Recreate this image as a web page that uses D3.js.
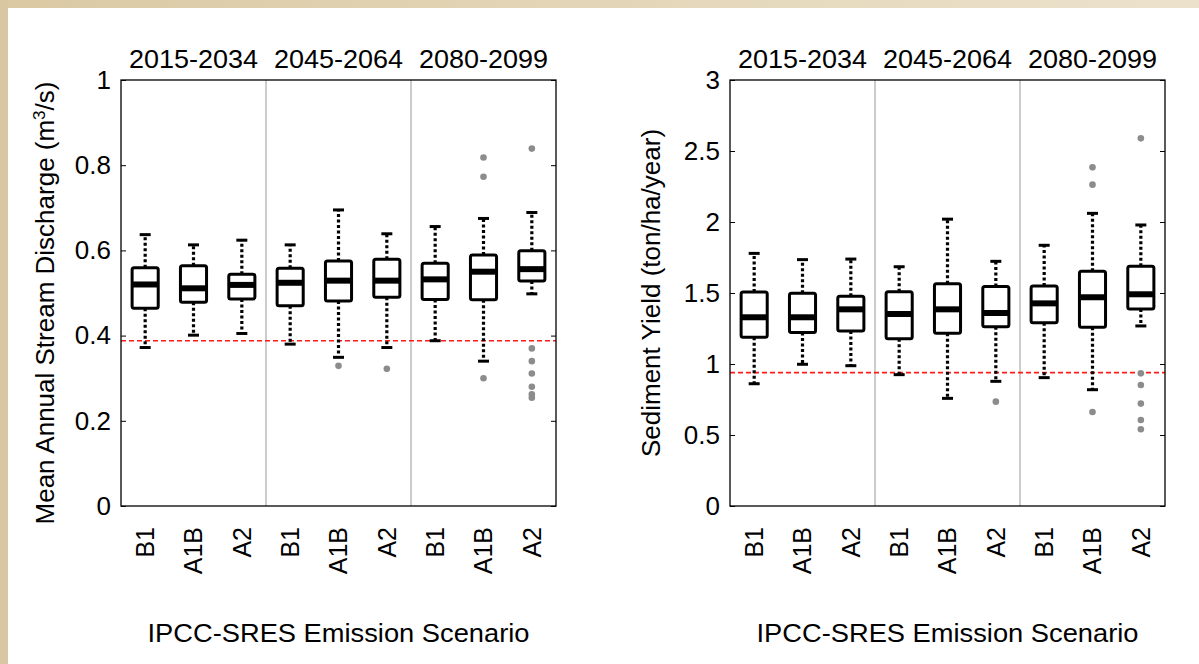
<!DOCTYPE html>
<html>
<head>
<meta charset="utf-8">
<script src="https://cdn.jsdelivr.net/npm/d3@7"></script>
<style>
  body { margin: 0; background: #fff; }
  svg { display: block; font-family: "Liberation Sans", Arial, sans-serif; }
</style>
</head>
<body>
<svg id="chart" width="1199" height="664"></svg>
<script>
// periods and scenarios on the x axis
const periods = ["2015-2034", "2045-2064", "2080-2099"];
const scenarios = ["B1", "A1B", "A2"];

// mean annual stream discharge (m3/s), box stats per period x scenario
const dischargeLow  = [0.372, 0.401, 0.405, 0.380, 0.349, 0.372, 0.388, 0.340, 0.498];
const dischargeQ1   = [0.464, 0.478, 0.486, 0.470, 0.481, 0.490, 0.485, 0.484, 0.528];
const dischargeMed  = [0.520, 0.511, 0.519, 0.524, 0.529, 0.529, 0.532, 0.550, 0.556];
const dischargeQ3   = [0.559, 0.564, 0.544, 0.558, 0.575, 0.579, 0.570, 0.589, 0.599];
const dischargeHigh = [0.637, 0.613, 0.624, 0.613, 0.695, 0.639, 0.656, 0.675, 0.689];
const dischargeOut  = [[], [], [], [], [0.329], [0.322], [], [0.818, 0.773, 0.300],
                       [0.839, 0.370, 0.340, 0.311, 0.280, 0.262, 0.254]];
const dischargeBase = 0.388;
const dischargeTicks = [0, 0.2, 0.4, 0.6, 0.8, 1];

// sediment yield (ton/ha/year)
const sedimentLow  = [0.861, 0.998, 0.988, 0.925, 0.758, 0.878, 0.904, 0.819, 1.268];
const sedimentQ1   = [1.188, 1.221, 1.232, 1.178, 1.216, 1.263, 1.291, 1.258, 1.387];
const sedimentMed  = [1.329, 1.329, 1.385, 1.352, 1.385, 1.359, 1.427, 1.470, 1.491];
const sedimentQ3   = [1.507, 1.498, 1.477, 1.509, 1.566, 1.545, 1.549, 1.653, 1.688];
const sedimentHigh = [1.779, 1.735, 1.739, 1.685, 2.020, 1.723, 1.836, 2.061, 1.979];
const sedimentOut  = [[], [], [], [], [], [0.735], [], [2.385, 2.263, 0.662],
                      [2.589, 0.934, 0.852, 0.721, 0.606, 0.540]];
const sedimentBase = 0.939;
const sedimentTicks = [0, 0.5, 1, 1.5, 2, 2.5, 3];

const svg = d3.select("#chart");

// beige frame on top and left
const grad = svg.append("defs").append("linearGradient")
    .attr("id", "frame").attr("x1", 0).attr("x2", 1).attr("y1", 0).attr("y2", 0);
grad.append("stop").attr("offset", "0%").attr("stop-color", "#dac9a3");
grad.append("stop").attr("offset", "100%").attr("stop-color", "#ece2cc");
svg.append("rect").attr("x", 0).attr("y", 0).attr("width", 1199).attr("height", 8).attr("fill", "url(#frame)");
svg.append("rect").attr("x", 0).attr("y", 0).attr("width", 8).attr("height", 664).attr("fill", "#d8c7a2");

const keys = [];
periods.forEach(p => scenarios.forEach(s => keys.push(p + "|" + s)));

function drawPanel(opt) {
  const left = opt.left, top = 80, w = 435, h = 426;
  const g = svg.append("g").attr("transform", `translate(${left},${top})`);

  const x = d3.scalePoint().domain(keys).range([0, w]).padding(0.5);
  const y = d3.scaleLinear().domain(opt.domain).range([h, 0]);
  const boxW = x.step() * 0.54;
  const capW = 11;

  // period dividers
  g.selectAll("line.div").data([1, 2]).join("line")
      .attr("x1", d => d * w / 3).attr("x2", d => d * w / 3)
      .attr("y1", 0).attr("y2", h)
      .attr("stroke", "#aaa").attr("stroke-width", 1.2);

  // baseline (red dashed)
  g.append("line")
      .attr("x1", 0).attr("x2", w)
      .attr("y1", y(opt.base)).attr("y2", y(opt.base))
      .attr("stroke", "#ff1a1a").attr("stroke-width", 1.6)
      .attr("stroke-dasharray", "5,3");

  const data = keys.map((k, i) => ({
    k, low: opt.low[i], q1: opt.q1[i], med: opt.med[i], q3: opt.q3[i], high: opt.high[i], out: opt.out[i]
  }));

  const box = g.selectAll("g.box").data(data).join("g").attr("class", "box");

  // whiskers
  box.append("line")
      .attr("x1", d => x(d.k)).attr("x2", d => x(d.k))
      .attr("y1", d => y(d.q3)).attr("y2", d => y(d.high))
      .attr("stroke", "#000").attr("stroke-width", 3.2).attr("stroke-dasharray", "3,2.5");
  box.append("line")
      .attr("x1", d => x(d.k)).attr("x2", d => x(d.k))
      .attr("y1", d => y(d.q1)).attr("y2", d => y(d.low))
      .attr("stroke", "#000").attr("stroke-width", 3.2).attr("stroke-dasharray", "3,2.5");
  // caps
  box.append("line")
      .attr("x1", d => x(d.k) - capW / 2).attr("x2", d => x(d.k) + capW / 2)
      .attr("y1", d => y(d.high)).attr("y2", d => y(d.high))
      .attr("stroke", "#000").attr("stroke-width", 3);
  box.append("line")
      .attr("x1", d => x(d.k) - capW / 2).attr("x2", d => x(d.k) + capW / 2)
      .attr("y1", d => y(d.low)).attr("y2", d => y(d.low))
      .attr("stroke", "#000").attr("stroke-width", 3);
  // box
  box.append("rect")
      .attr("x", d => x(d.k) - boxW / 2).attr("width", boxW)
      .attr("y", d => y(d.q3)).attr("height", d => y(d.q1) - y(d.q3))
      .attr("rx", 2).attr("fill", "#fff")
      .attr("stroke", "#000").attr("stroke-width", 3);
  // median
  box.append("line")
      .attr("x1", d => x(d.k) - boxW / 2).attr("x2", d => x(d.k) + boxW / 2)
      .attr("y1", d => y(d.med)).attr("y2", d => y(d.med))
      .attr("stroke", "#000").attr("stroke-width", 6);
  // outliers
  box.selectAll("circle").data(d => d.out.map(v => ({ k: d.k, v }))).join("circle")
      .attr("cx", d => x(d.k)).attr("cy", d => y(d.v)).attr("r", 3.3)
      .attr("fill", "#8c8c8c");

  // frame
  g.append("rect").attr("width", w).attr("height", h)
      .attr("fill", "none").attr("stroke", "#000").attr("stroke-width", 1.3);

  // y axes, ticks pointing inward on both sides
  g.append("g")
      .call(d3.axisLeft(y).tickValues(opt.ticks).tickSizeInner(-5).tickSizeOuter(0).tickPadding(10).tickFormat(d3.format("~g")))
      .call(a => a.select(".domain").remove())
      .call(a => a.selectAll("text").attr("font-size", 26).attr("fill", "#000").attr("font-family", null));
  g.append("g").attr("transform", `translate(${w},0)`)
      .call(d3.axisRight(y).tickValues(opt.ticks).tickSizeInner(-5).tickSizeOuter(0).tickFormat(""))
      .call(a => a.select(".domain").remove());

  // period titles
  g.selectAll("text.period").data(periods).join("text")
      .attr("x", (d, i) => (i + 0.5) * w / 3).attr("y", -12)
      .attr("text-anchor", "middle").attr("font-size", 25)
      .attr("textLength", 129).attr("lengthAdjust", "spacingAndGlyphs")
      .text(d => d);

  // scenario labels, rotated
  g.selectAll("text.scen").data(keys).join("text")
      .attr("transform", d => `translate(${x(d)},${h + 21}) rotate(-90)`)
      .attr("text-anchor", "end").attr("dy", "0.35em").attr("font-size", 25)
      .text(d => d.split("|")[1]);

  // x title
  g.append("text")
      .attr("x", w / 2).attr("y", 642 - top)
      .attr("text-anchor", "middle").attr("font-size", 26)
      .attr("textLength", 382).attr("lengthAdjust", "spacingAndGlyphs")
      .text("IPCC-SRES Emission Scenario");

  // y title
  const yt = g.append("text")
      .attr("transform", `translate(${opt.ylabX - left},${h / 2 + opt.ylabShift}) rotate(-90)`)
      .attr("text-anchor", "middle").attr("dy", "0.35em").attr("font-size", 26);
  opt.ylab(yt);
}

drawPanel({
  left: 121, domain: [0, 1], ticks: dischargeTicks, base: dischargeBase,
  low: dischargeLow, q1: dischargeQ1, med: dischargeMed, q3: dischargeQ3, high: dischargeHigh, out: dischargeOut,
  ylabX: 45, ylabShift: 10,
  ylab: t => {
    t.append("tspan").text("Mean Annual Stream Discharge (m");
    t.append("tspan").attr("baseline-shift", "super").attr("font-size", 17).text("3");
    t.append("tspan").text("/s)");
  }
});

drawPanel({
  left: 730, domain: [0, 3], ticks: sedimentTicks, base: sedimentBase,
  low: sedimentLow, q1: sedimentQ1, med: sedimentMed, q3: sedimentQ3, high: sedimentHigh, out: sedimentOut,
  ylabX: 651, ylabShift: 0,
  ylab: t => t.text("Sediment Yield (ton/ha/year)")
});
</script>
</body>
</html>
